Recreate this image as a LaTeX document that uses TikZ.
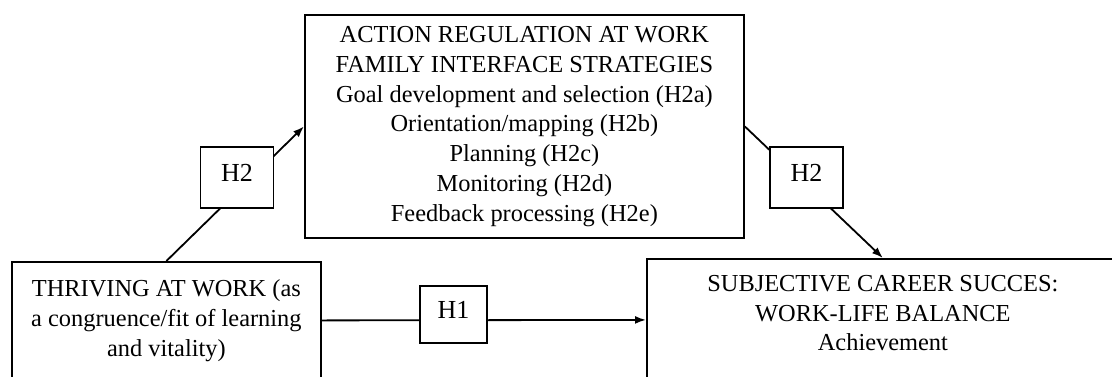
\documentclass[tikz,border=0pt]{standalone}
\usepackage{fontspec}
\setmainfont{Liberation Serif}
\usetikzlibrary{arrows.meta,positioning}

\tikzset{
  box/.style={draw, line width=1.8pt, align=center, inner sep=0pt},
  hyp/.style={draw, fill=white, line width=1.8pt, minimum width=73pt, minimum height=61pt, inner sep=0pt,
    font=\fontsize{26}{30}\selectfont, text depth=10pt},
  arr/.style={line width=1.8pt, -{Latex[length=11pt,width=8pt]}},
}

\begin{document}
\begin{tikzpicture}[x=1pt, y=-1pt, font=\fontsize{24.4}{29.8}\selectfont]
    \useasboundingbox (0,0) rectangle (1112,376);
    % the three boxes
    \node[box, anchor=north west, minimum width=439pt, minimum height=223pt] (action) at (304,14)
        {ACTION REGULATION AT WORK\\FAMILY INTERFACE STRATEGIES\\Goal development and selection (H2a)\\Orientation/mapping (H2b)\\Planning (H2c)\\Monitoring (H2d)\\Feedback processing (H2e)};
    \node[box, anchor=north west, minimum width=309pt, minimum height=117pt] (thriving) at (11,261)
        {THRIVING AT WORK (as\\a congruence/fit of learning\\and vitality)};
    \node[box, anchor=north west, minimum width=472pt, minimum height=122pt] (succes) at (646,258) {};
    \node[align=center, inner sep=0pt, below=17pt of succes.north] (successtext)
        {SUBJECTIVE CAREER SUCCES:\\WORK-LIFE BALANCE\\Achievement};
    % paths
    \draw[arr] (thriving.north) -- (action.west);
    \draw[arr] (action.east) -- (succes.north);
    \draw[arr] (thriving.east) -- (succes.west);
    % hypothesis labels on the paths
    \node[hyp] (h2a) at (237,177.5) {H2};
    \node[hyp] (h2b) at (806.5,177.5) {H2};
    \node[hyp, minimum width=67pt, minimum height=57pt] (h1) at (453.5,314.5) {H1};
\end{tikzpicture}
\end{document}
